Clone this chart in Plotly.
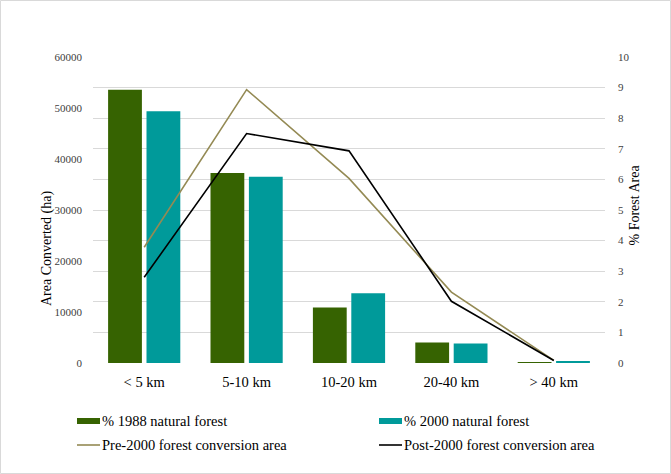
import plotly.graph_objects as go

categories = ["< 5 km", "5-10 km", "10-20 km", "20-40 km", "> 40 km"]
pct_1988 = [8.93, 6.21, 1.81, 0.67, 0.03]
pct_2000 = [8.23, 6.09, 2.28, 0.635, 0.04]
pre_2000_area = [22700, 53600, 36200, 13900, 500]
post_2000_area = [16800, 45000, 41600, 12100, 500]
left_ticks = [0, 10000, 20000, 30000, 40000, 50000, 60000]
right_ticks = list(range(0, 11))
series_names = ["% 1988 natural forest", "% 2000 natural forest",
                "Pre-2000 forest conversion area", "Post-2000 forest conversion area"]
series_colors = ["#366301", "#009a9a", "#948a54", "#000000"]

FONT = "Liberation Serif"

fig = go.Figure()
fig.add_trace(go.Bar(name=series_names[0], x=categories, y=pct_1988,
                     marker=dict(color=series_colors[0], line=dict(width=0)), yaxis="y"))
fig.add_trace(go.Bar(name=series_names[1], x=categories, y=pct_2000,
                     marker=dict(color=series_colors[1], line=dict(width=0)), yaxis="y"))
fig.add_trace(go.Scatter(name=series_names[2], x=categories, y=pre_2000_area,
                         mode="lines", line=dict(color=series_colors[2], width=1.6), yaxis="y2"))
fig.add_trace(go.Scatter(name=series_names[3], x=categories, y=post_2000_area,
                         mode="lines", line=dict(color=series_colors[3], width=1.6), yaxis="y2"))

x0, x1, yt, yb = 93, 605, 57, 363
W, H = 671, 474
pw, ph = x1 - x0, yb - yt
def px(x): return (x - x0) / pw
def py(y): return (yb - y) / ph

annotations = [
    dict(text="Area Converted (ha)", xref="paper", yref="paper", x=px(37), y=py(249),
         textangle=-90, showarrow=False, font=dict(family=FONT, size=14, color="#000000")),
    dict(text="% Forest Area", xref="paper", yref="paper", x=px(644), y=py(205),
         textangle=-90, showarrow=False, font=dict(family=FONT, size=14, color="#000000")),
]
shapes = [dict(type="rect", xref="paper", yref="paper", x0=px(0.5), x1=px(670.5),
               y0=py(473.5), y1=py(0.5), line=dict(color="#d9d9d9", width=1), layer="below")]

# manual legend (2 columns x 2 rows)
leg_pos = [(77, 421), (379, 421), (77, 445), (379, 445)]
for i, (lx, ly) in enumerate(leg_pos):
    if i < 2:
        shapes.append(dict(type="rect", xref="paper", yref="paper", x0=px(lx), x1=px(lx + 23),
                           y0=py(ly + 3), y1=py(ly - 3), fillcolor=series_colors[i],
                           line=dict(width=0)))
    else:
        shapes.append(dict(type="line", xref="paper", yref="paper", x0=px(lx), x1=px(lx + 23),
                           y0=py(ly), y1=py(ly), line=dict(color=series_colors[i], width=1.6)))
    annotations.append(dict(text=series_names[i], xref="paper", yref="paper",
                            x=px(lx + 23), y=py(ly), xanchor="left", yanchor="middle",
                            showarrow=False,
                            font=dict(family=FONT, size=14.5, color="#000000")))

fig.update_layout(
    width=W, height=H,
    margin=dict(l=x0, r=W - x1, t=yt, b=H - yb, autoexpand=False),
    paper_bgcolor="white", plot_bgcolor="white",
    font=dict(family=FONT, size=11, color="#404040"),
    barmode="group", bargap=0.25, bargroupgap=0.12,
    showlegend=False,
    xaxis=dict(showgrid=False, showline=False, ticks="", zeroline=False,
               ticklabelstandoff=8,
               tickfont=dict(family=FONT, size=14.5, color="#000000")),
    yaxis=dict(side="right", range=[0, 10], tickvals=right_ticks,
               ticktext=[str(v) for v in right_ticks], showgrid=True,
               gridcolor="#d9d9d9", gridwidth=1, zeroline=False, showline=False,
               ticks="", ticklabelstandoff=12,
               tickfont=dict(family=FONT, size=11, color="#404040")),
    yaxis2=dict(side="left", overlaying="y", range=[0, 60000], tickvals=left_ticks,
                ticktext=[str(v) for v in left_ticks],
                showgrid=False, zeroline=False, showline=False, ticks="",
                ticklabelstandoff=10,
                tickfont=dict(family=FONT, size=11, color="#404040")),
    annotations=annotations,
    shapes=shapes,
)

fig.write_html("out.html", config={"displayModeBar": False},
               post_script="document.body.style.margin='0';")
